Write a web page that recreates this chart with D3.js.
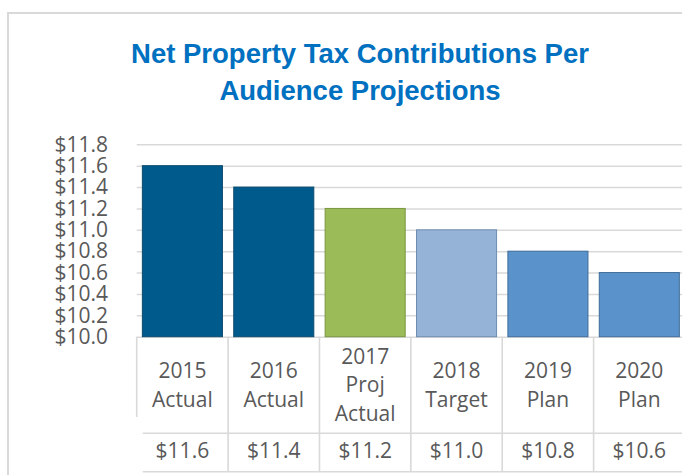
<!DOCTYPE html>
<html>
<head>
<meta charset="utf-8">
<script src="https://cdn.jsdelivr.net/npm/d3@7"></script>
<style>
  body { margin: 0; background: #fff; }
  svg { display: block; }
  .label { font-family: "Open Sans", sans-serif; font-size: 21px; fill: #595959; }
</style>
</head>
<body>
<div id="grafico"></div>
<script>
// Dados do gráfico
const categorias = ["2015 Actual", "2016 Actual", "2017 Proj Actual", "2018 Target", "2019 Plan", "2020 Plan"];
const rotulos = [["2015", "Actual"], ["2016", "Actual"], ["2017", "Proj", "Actual"], ["2018", "Target"], ["2019", "Plan"], ["2020", "Plan"]];
const valores = [11.6, 11.4, 11.2, 11.0, 10.8, 10.6];
const ticksY = [10.0, 10.2, 10.4, 10.6, 10.8, 11.0, 11.2, 11.4, 11.6, 11.8];
const titulo = ["Net Property Tax Contributions Per", "Audience Projections"];

function criarGrafico() {
    const largura = 682;
    const altura = 475;
    const esq = 136.7, dir = 685;   // área do gráfico (passa um pouco da janela)
    const topo = 144.3, base = 336.7;

    // cores por categoria
    const cores = ["#005A8C", "#005A8C", "#9BBB59", "#95B3D7", "#5A93CB", "#5A93CB"];
    const bordas = ["#0B4A6E", "#0B4A6E", "#7A973F", "#6F8CB0", "#3E6C99", "#3E6C99"];

    const svg = d3.select("#grafico")
        .append("svg")
        .attr("width", largura)
        .attr("height", altura);

    // moldura da área do gráfico
    svg.append("rect")
        .attr("x", 8).attr("y", 13)
        .attr("width", 720).attr("height", 520)
        .attr("fill", "#fff")
        .attr("stroke", "#D9D9D9")
        .attr("stroke-width", 2);

    // título
    svg.append("text")
        .attr("x", 360)
        .attr("text-anchor", "middle")
        .style("font-family", "'Liberation Sans', Arial, sans-serif")
        .style("font-weight", "bold")
        .style("font-size", "27.5px")
        .attr("fill", "#0070C0")
        .selectAll("tspan")
        .data(titulo)
        .enter()
        .append("tspan")
        .attr("x", 360)
        .attr("y", (d, i) => 63 + i * 37)
        .text(d => d);

    // escalas
    const x = d3.scaleBand()
        .domain(categorias)
        .range([esq, dir])
        .paddingInner(0.124)
        .paddingOuter(0.062);

    const colunas = d3.scaleBand()
        .domain(categorias)
        .range([esq, dir])
        .padding(0);

    const y = d3.scaleLinear()
        .domain([10, 11.8])
        .range([base, topo]);

    // eixo Y com linhas de grade
    const eixoY = svg.append("g")
        .attr("transform", `translate(${esq},0)`)
        .call(d3.axisLeft(y)
            .tickValues(ticksY)
            .tickSizeInner(-(dir - esq))
            .tickSizeOuter(0)
            .tickPadding(28.7)
            .tickFormat(d => "$" + d.toFixed(1)));
    eixoY.select(".domain").remove();
    eixoY.selectAll("line")
        .attr("stroke", "#D9D9D9")
        .attr("stroke-width", 1.6);
    eixoY.selectAll("text")
        .attr("class", "label")
        .attr("fill", null);

    // barras
    svg.selectAll(".bar")
        .data(valores)
        .enter()
        .append("rect")
        .attr("class", "bar")
        .attr("x", (d, i) => x(categorias[i]))
        .attr("y", d => y(d))
        .attr("width", x.bandwidth())
        .attr("height", d => y(10) - y(d))
        .attr("fill", (d, i) => cores[i])
        .attr("stroke", (d, i) => bordas[i])
        .attr("stroke-width", 1);

    // tabela de dados abaixo do gráfico
    const tabela = svg.append("g").attr("stroke", "#D9D9D9").attr("stroke-width", 1.6);
    const linhaMeio = 433.3, linhaFim = 471.7;

    tabela.selectAll(".vline")
        .data(categorias.concat(["fim"]))
        .enter()
        .append("line")
        .attr("x1", (d, i) => i < categorias.length ? colunas(d) : dir)
        .attr("x2", (d, i) => i < categorias.length ? colunas(d) : dir)
        .attr("y1", base)
        .attr("y2", (d, i) => i === 0 ? 417 : linhaFim);

    tabela.append("line")
        .attr("x1", esq + 6).attr("x2", dir)
        .attr("y1", linhaMeio).attr("y2", linhaMeio);
    tabela.append("line")
        .attr("x1", esq + 6).attr("x2", dir)
        .attr("y1", linhaFim).attr("y2", linhaFim);

    // rótulos das categorias
    svg.selectAll(".cat")
        .data(rotulos)
        .enter()
        .append("text")
        .attr("class", "label cat")
        .attr("text-anchor", "middle")
        .each(function (linhas, i) {
            const cx = colunas(categorias[i]) + colunas.bandwidth() / 2;
            d3.select(this).selectAll("tspan")
                .data(linhas)
                .enter()
                .append("tspan")
                .attr("x", cx)
                .attr("y", (d, j) => 392.3 + (j - (linhas.length - 1) / 2) * 28.6)
                .text(d => d);
        });

    // valores na tabela
    svg.selectAll(".valor")
        .data(valores)
        .enter()
        .append("text")
        .attr("class", "label valor")
        .attr("text-anchor", "middle")
        .attr("x", (d, i) => colunas(categorias[i]) + colunas.bandwidth() / 2)
        .attr("y", 458.3)
        .text(d => "$" + d.toFixed(1));
}

criarGrafico();
</script>
</body>
</html>
